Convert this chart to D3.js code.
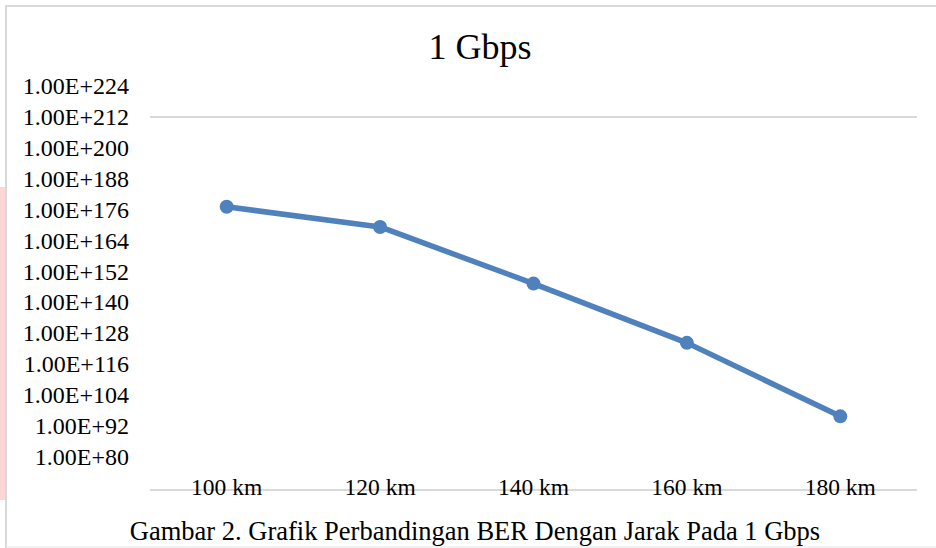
<!DOCTYPE html>
<html>
<head>
<meta charset="utf-8">
<script src="https://cdn.jsdelivr.net/npm/d3@7"></script>
<style>
  body { margin: 0; background: #fff; }
</style>
</head>
<body>
<div id="chart"></div>
<script>

// data
const categories = ["100 km", "120 km", "140 km", "160 km", "180 km"];
const berValues = [1.3e177, 2e169, 2e147, 2e124, 6e95];
const tickValues = [1e224, 1e212, 1e200, 1e188, 1e176, 1e164, 1e152, 1e140, 1e128, 1e116, 1e104, 1e92, 1e80];
const gridValues = [1e212];

const width = 936, height = 548;

const svg = d3.select("#chart").append("svg")
    .attr("width", width)
    .attr("height", height)
    .attr("font-family", "'Liberation Serif', 'Tinos', 'DejaVu Serif', serif")
    .attr("fill", "#000");

// pinkish strip on the left page edge
svg.append("rect")
    .attr("x", 0).attr("y", 187)
    .attr("width", 5).attr("height", 313)
    .attr("fill", "#fdd6d6");

// frame
svg.append("path")
    .attr("d", "M6,548 V6 H936")
    .attr("fill", "none")
    .attr("stroke", "#d9d9d9")
    .attr("stroke-width", 2);
svg.append("line")
    .attr("x1", 6).attr("x2", 936)
    .attr("y1", 547).attr("y2", 547)
    .attr("stroke", "#e6e6e6")
    .attr("stroke-width", 1);

let plotLeft = 150, plotRight = 917, plotBottom = 490;

let x = d3.scaleBand()
    .domain(categories)
    .range([plotLeft, plotRight]);

let y = d3.scaleLog()
    .domain([1e80, 1e224])
    .range([457, 86]);

// gridline
svg.selectAll(".grid")
    .data(gridValues)
    .enter().append("line")
    .attr("class", "grid")
    .attr("x1", plotLeft).attr("x2", plotRight)
    .attr("y1", d => y(d)).attr("y2", d => y(d))
    .attr("stroke", "#d9d9d9")
    .attr("stroke-width", 2);

// category axis line
svg.append("line")
    .attr("x1", plotLeft).attr("x2", plotRight)
    .attr("y1", plotBottom).attr("y2", plotBottom)
    .attr("stroke", "#d9d9d9")
    .attr("stroke-width", 2);

// y tick labels
svg.selectAll(".ylab")
    .data(tickValues)
    .enter().append("text")
    .attr("class", "ylab")
    .attr("x", 129)
    .attr("y", d => y(d) + 8)
    .attr("text-anchor", "end")
    .attr("font-size", 24)
    .text(d => "1.00E+" + Math.round(Math.log10(d)));

// x tick labels
svg.selectAll(".xlab")
    .data(categories)
    .enter().append("text")
    .attr("class", "xlab")
    .attr("x", d => x(d) + x.bandwidth() / 2)
    .attr("y", 495)
    .attr("text-anchor", "middle")
    .attr("font-size", 23.5)
    .text(d => d);

// series
let line = d3.line()
    .x((d, i) => x(categories[i]) + x.bandwidth() / 2)
    .y(d => y(d));

svg.append("path")
    .datum(berValues)
    .attr("d", line)
    .attr("fill", "none")
    .attr("stroke", "#4f81bd")
    .attr("stroke-width", 5.5)
    .attr("stroke-linejoin", "round");

svg.selectAll(".pt")
    .data(berValues)
    .enter().append("circle")
    .attr("class", "pt")
    .attr("cx", (d, i) => x(categories[i]) + x.bandwidth() / 2)
    .attr("cy", d => y(d))
    .attr("r", 7)
    .attr("fill", "#4f81bd");

// title
svg.append("text")
    .attr("x", 480)
    .attr("y", 59)
    .attr("text-anchor", "middle")
    .attr("font-size", 36)
    .text("1 Gbps");

// caption
svg.append("text")
    .attr("x", 475)
    .attr("y", 540)
    .attr("text-anchor", "middle")
    .attr("font-size", 26.5)
    .text("Gambar 2. Grafik Perbandingan BER Dengan Jarak Pada 1 Gbps");

</script>
</body>
</html>
